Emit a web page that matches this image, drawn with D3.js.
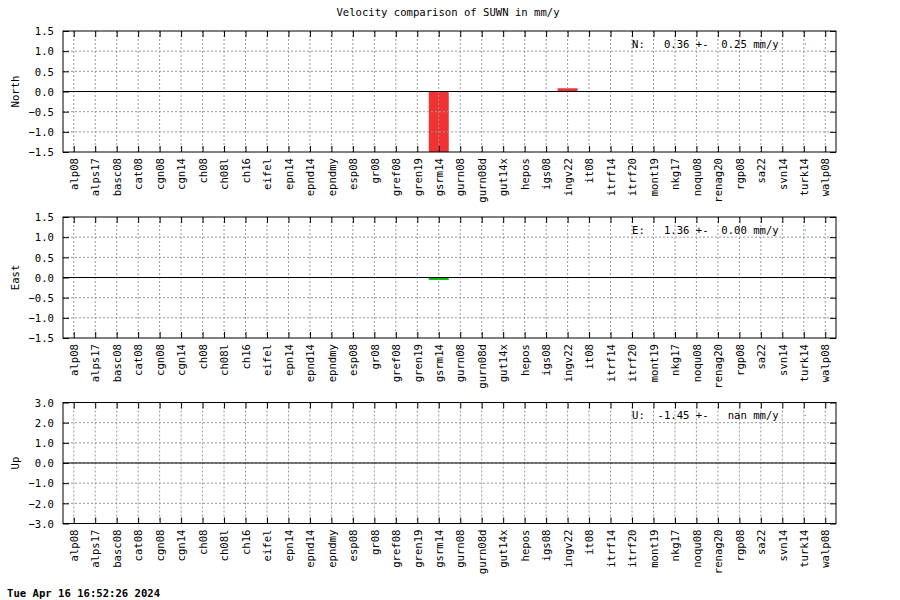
<!DOCTYPE html>
<html><head><meta charset="utf-8">
<script src="https://cdn.jsdelivr.net/npm/d3@7"></script>
<style>
body{margin:0;background:#fff;}
text{font-family:"DejaVu Sans Mono",monospace;font-size:10.6px;fill:#000;}
</style></head><body>
<svg id="c" width="900" height="600"></svg>
<script>
const categories = ["alp08","alps17","basc08","cat08","cgn08","cgn14","ch08","ch08l","ch16","eifel","epn14","epnd14","epndmy","esp08","gr08","gref08","gren19","gsrm14","gurn08","gurn08d","gut14x","hepos","igs08","ingv22","it08","itrf14","itrf20","mont19","nkg17","noqu08","renag20","rgp08","sa22","svn14","turk14","walp08"];
const northValues = [null,null,null,null,null,null,null,null,null,null,null,null,null,null,null,null,null,-2.5,null,null,null,null,null,0.08,null,null,null,null,null,null,null,null,null,null,null,null];
const eastValues  = [null,null,null,null,null,null,null,null,null,null,null,null,null,null,null,null,null,-0.06,null,null,null,null,null,null,null,null,null,null,null,null,null,null,null,null,null,null];
const upValues    = [null,null,null,null,null,null,null,null,null,null,null,null,null,null,null,null,null,null,null,null,null,null,null,null,null,null,null,null,null,null,null,null,null,null,null,null];
const panelNames = ["North","East","Up"];
const keyTexts = ["N:   0.36 +-  0.25 mm/y","E:   1.36 +-  0.00 mm/y","U:  -1.45 +-   nan mm/y"];
const yTicksNE = [-1.5,-1.0,-0.5,0.0,0.5,1.0,1.5];
const yTicksU = [-3.0,-2.0,-1.0,0.0,1.0,2.0,3.0];
const title = "Velocity comparison of SUWN in mm/y";
const timestamp = "Tue Apr 16 16:52:26 2024";

const svg = d3.select("#c");
const L = 63, R = 836, H = 121;
const tops = [31, 217, 402.5];
const colors = ["#f03232", "#00c000", "#3399ff"];
const series = [northValues, eastValues, upValues];
const domains = [[-1.5,1.5],[-1.5,1.5],[-3,3]];
const ticksets = [yTicksNE, yTicksNE, yTicksU];
const fmt = d3.format(".1f");

const x = d3.scaleLinear().domain([-0.5, categories.length - 0.5]).range([L, R]);
const barW = 0.93;

svg.append("text").attr("x", 448).attr("y", 16).attr("text-anchor","middle").text(title);

series.forEach((vals, p) => {
  const top = tops[p], bot = top + H;
  const y = d3.scaleLinear().domain(domains[p]).range([bot, top]);
  const g = svg.append("g");
  const cid = "clip" + p;
  g.append("clipPath").attr("id", cid).append("rect").attr("x", L).attr("y", top).attr("width", R - L).attr("height", H);

  g.append("g").attr("clip-path", `url(#${cid})`).selectAll("rect")
    .data(vals.map((v,i)=>({v,i})).filter(d => d.v !== null))
    .join("rect")
    .attr("x", d => x(d.i - barW/2))
    .attr("width", d => x(d.i + barW/2) - x(d.i - barW/2))
    .attr("y", d => Math.min(y(d.v), y(0)))
    .attr("height", d => Math.abs(y(d.v) - y(0)))
    .attr("fill", colors[p]);

  const grid = g.append("g").attr("stroke", "#999").attr("stroke-width", 1).attr("stroke-dasharray", "2,2");
  categories.forEach((c,i) => {
    grid.append("line").attr("x1", x(i)).attr("x2", x(i)).attr("y1", top).attr("y2", bot);
  });
  ticksets[p].forEach(t => {
    if (t === domains[p][0] || t === domains[p][1]) return;
    grid.append("line").attr("x1", L).attr("x2", R).attr("y1", y(t)).attr("y2", y(t));
  });

  g.append("line").attr("x1", L).attr("x2", R).attr("y1", y(0)).attr("y2", y(0)).attr("stroke", "#000");

  const tl = 6;
  const axL = g.append("g").attr("transform", `translate(${L},0)`)
    .call(d3.axisLeft(y).tickValues(ticksets[p]).tickFormat(fmt).tickSizeInner(-tl).tickSizeOuter(0));
  const axR = g.append("g").attr("transform", `translate(${R},0)`)
    .call(d3.axisRight(y).tickValues(ticksets[p]).tickFormat("").tickSizeInner(-tl).tickSizeOuter(0));
  const axB = g.append("g").attr("transform", `translate(0,${bot})`)
    .call(d3.axisBottom(x).tickValues(d3.range(categories.length)).tickFormat(i => categories[i]).tickSizeInner(-tl).tickSizeOuter(0));
  const axT = g.append("g").attr("transform", `translate(0,${top})`)
    .call(d3.axisTop(x).tickValues(d3.range(categories.length)).tickFormat("").tickSizeInner(-tl).tickSizeOuter(0));
  [axL, axR, axB, axT].forEach(a => { a.select(".domain").remove(); a.attr("font-family", null).attr("font-size", null); a.selectAll("line").attr("stroke","#000"); });
  axL.selectAll("text").attr("x", -9).attr("dy", "0.35em");
  axB.selectAll("text")
    .attr("transform", "rotate(-90)")
    .attr("text-anchor", "end")
    .attr("x", -6).attr("y", 0).attr("dy", "0.35em");

  g.append("rect").attr("x", L).attr("y", top).attr("width", R - L).attr("height", H)
    .attr("fill", "none").attr("stroke", "#000");

  svg.append("text").attr("transform", `translate(19,${top + H/2}) rotate(-90)`)
    .attr("text-anchor", "middle").text(panelNames[p]);

  svg.append("text").attr("x", 632).attr("y", top + 16.5).attr("xml:space","preserve").style("white-space","pre").text(keyTexts[p]);
  svg.append("rect").attr("x", 805).attr("y", top + 12.5).attr("width", 1).attr("height", 1).attr("fill", colors[p]);
});

svg.append("text").attr("x", 7).attr("y", 597).attr("font-weight", "bold").text(timestamp);
</script>
</body></html>
